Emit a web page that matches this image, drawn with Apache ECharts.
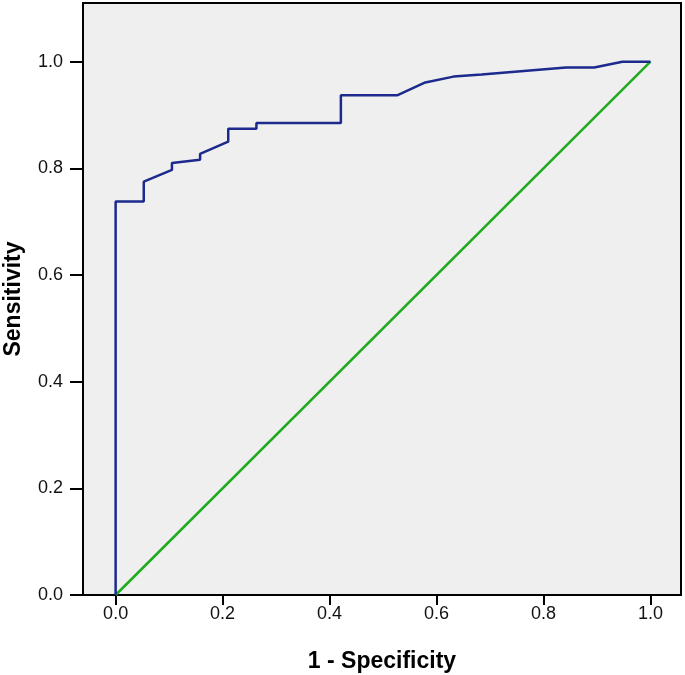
<!DOCTYPE html>
<html>
<head>
<meta charset="utf-8">
<script src="https://cdn.jsdelivr.net/npm/echarts@6/dist/echarts.min.js"></script>
<style>
html,body{margin:0;padding:0;background:#fff;}
#chart{width:685px;height:675px;}
</style>
</head>
<body>
<div id="chart"></div>
<script>
// ROC curve points (1 - Specificity, Sensitivity)
var fpr = [0, 0, 0.0526, 0.0526, 0.1053, 0.1053, 0.1579, 0.1579, 0.2105, 0.2105, 0.2632, 0.2632, 0.4211, 0.4211, 0.5263, 0.5789, 0.6316, 0.6842, 0.8421, 0.8947, 0.9474, 1.0];
var tpr = [0, 0.738, 0.738, 0.775, 0.797, 0.810, 0.816, 0.827, 0.850, 0.874, 0.874, 0.885, 0.885, 0.937, 0.937, 0.961, 0.972, 0.976, 0.989, 0.989, 1.0, 1.0];
// Reference line
var refX = [0, 1];
var refY = [0, 1];
var xTicks = [0, 0.2, 0.4, 0.6, 0.8, 1.0];
var yTicks = [0, 0.2, 0.4, 0.6, 0.8, 1.0];

var rocData = fpr.map(function (x, i) { return [x, tpr[i]]; });
var refData = refX.map(function (x, i) { return [x, refY[i]]; });

var chart = echarts.init(document.getElementById('chart'));
var labelStyle = { color: '#111', fontSize: 18, fontFamily: 'Liberation Sans, Arial, sans-serif' };
chart.setOption({
  animation: false,
  grid: {
    left: 83, right: 4, top: 3, bottom: 80,
    containLabel: false, outerBoundsMode: 'none',
    show: true, backgroundColor: '#efefef', borderColor: '#000', borderWidth: 2
  },
  xAxis: {
    type: 'value', min: -0.061, max: 1.057,
    name: '1 - Specificity', nameLocation: 'middle', nameGap: 55,
    nameTextStyle: { fontSize: 23, fontWeight: 'bold', color: '#000', fontFamily: 'Liberation Sans, Arial, sans-serif' },
    axisLine: { show: false, onZero: false },
    splitLine: { show: false },
    axisTick: { show: true, customValues: xTicks, length: 10, lineStyle: { color: '#000', width: 2 } },
    axisLabel: Object.assign({ customValues: xTicks, margin: 10, formatter: function (v) { return v.toFixed(1); } }, labelStyle)
  },
  yAxis: {
    type: 'value', min: 0, max: 1.11,
    name: 'Sensitivity', nameLocation: 'middle', nameGap: 58,
    nameTextStyle: { fontSize: 23, fontWeight: 'bold', color: '#000', fontFamily: 'Liberation Sans, Arial, sans-serif' },
    axisLine: { show: false, onZero: false },
    splitLine: { show: false },
    axisTick: { show: true, customValues: yTicks, length: 13, lineStyle: { color: '#000', width: 2 } },
    axisLabel: Object.assign({ customValues: yTicks, margin: 20, formatter: function (v) { return v.toFixed(1); } }, labelStyle)
  },
  series: [
    {
      type: 'line', data: refData, symbol: 'none',
      lineStyle: { color: '#1faa1f', width: 2.5 }
    },
    {
      type: 'line', data: rocData, symbol: 'none',
      lineStyle: { color: '#1b2a8c', width: 2.5 }
    }
  ]
});
</script>
</body>
</html>
